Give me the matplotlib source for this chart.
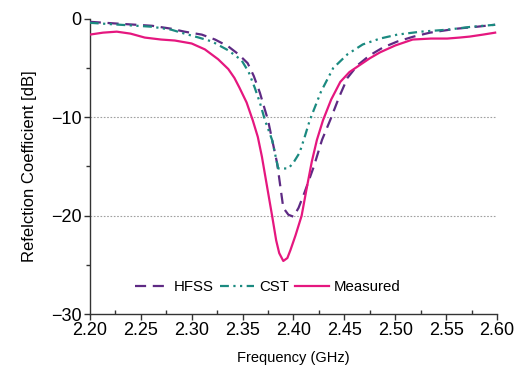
import matplotlib
matplotlib.use('Agg')
import matplotlib.pyplot as plt
from matplotlib.ticker import MultipleLocator, FormatStrFormatter

plt.rcParams['font.family'] = ['Liberation Sans', 'DejaVu Sans']

# Reflection coefficient (dB)
freq_meas = [2.200, 2.213, 2.2265, 2.240, 2.254, 2.270, 2.2835, 2.300, 2.313,
             2.326, 2.336, 2.342, 2.347, 2.354, 2.360, 2.365, 2.369, 2.374,
             2.379, 2.383, 2.386, 2.390, 2.394, 2.397, 2.402, 2.408, 2.413,
             2.418, 2.423, 2.429, 2.437, 2.446, 2.455, 2.465, 2.475, 2.485,
             2.500, 2.517, 2.535, 2.551, 2.563, 2.573, 2.586, 2.598]
s11_meas = [-1.6, -1.4, -1.3, -1.5, -1.9, -2.1, -2.2, -2.5, -3.1,
            -4.1, -5.1, -6.0, -7.0, -8.5, -10.3, -12.0, -14.0, -17.0,
            -20.0, -22.5, -23.8, -24.6, -24.3, -23.5, -22.0, -20.0, -17.2,
            -14.5, -12.3, -10.3, -8.2, -6.4, -5.4, -4.7, -4.0, -3.4,
            -2.7, -2.1, -2.0, -2.0, -1.9, -1.8, -1.6, -1.4]

freq_cst = [2.200, 2.230, 2.261, 2.280, 2.293, 2.307, 2.320, 2.336, 2.349,
            2.356, 2.362, 2.367, 2.372, 2.379, 2.385, 2.390, 2.395, 2.400,
            2.406, 2.411, 2.416, 2.427, 2.439, 2.453, 2.468, 2.485, 2.502,
            2.525, 2.551, 2.575, 2.598]
s11_cst = [-0.4, -0.6, -0.8, -1.1, -1.5, -1.9, -2.3, -3.2, -4.2,
           -5.4, -7.0, -8.5, -10.3, -12.3, -15.2, -15.2, -15.2, -14.6,
           -13.6, -12.0, -10.3, -7.4, -5.0, -3.6, -2.6, -2.0, -1.6,
           -1.3, -1.1, -0.8, -0.6]

freq_hfss = [2.200, 2.230, 2.261, 2.280, 2.293, 2.310, 2.323, 2.336, 2.346,
             2.355, 2.361, 2.367, 2.375, 2.384, 2.390, 2.395, 2.400, 2.405,
             2.411, 2.420, 2.428, 2.436, 2.445, 2.453, 2.463, 2.475, 2.488,
             2.502, 2.518, 2.534, 2.560, 2.580, 2.598]
s11_hfss = [-0.3, -0.5, -0.7, -1.0, -1.3, -1.6, -2.1, -2.8, -3.6,
            -4.5, -5.8, -7.5, -10.3, -14.7, -19.2, -19.9, -20.1, -19.2,
            -17.6, -15.0, -12.3, -10.3, -7.9, -6.0, -4.7, -3.7, -2.9,
            -2.3, -1.8, -1.4, -1.0, -0.8, -0.6]

PURPLE = '#5e2a84'
TEAL = '#1b8a80'
PINK = '#e5177f'

fig = plt.figure(figsize=(5.25, 3.7), dpi=100)
ax = fig.add_axes([0.171, 0.151, 0.776, 0.798])

for y in (-10, -20):
    ax.axhline(y, color='#a0a0a0', lw=0.8, ls=(0, (1.5, 1.5)), zorder=1)

ax.plot(freq_hfss, s11_hfss, color=PURPLE, lw=1.6, ls=(0, (5, 3)), label='HFSS', zorder=3)
ax.plot(freq_cst, s11_cst, color=TEAL, lw=1.6, ls=(0, (4, 2, 1, 2, 1, 2)), label='CST', zorder=3)
ax.plot(freq_meas, s11_meas, color=PINK, lw=1.6, label='Measured', zorder=4)

ax.set_xlim(2.20, 2.60)
ax.set_ylim(-30, 0)
ax.xaxis.set_major_locator(MultipleLocator(0.05))
ax.xaxis.set_minor_locator(MultipleLocator(0.025))
ax.yaxis.set_major_locator(MultipleLocator(10))
ax.yaxis.set_minor_locator(MultipleLocator(5))
ax.xaxis.set_major_formatter(FormatStrFormatter('%.2f'))

for s in ('top', 'right'):
    ax.spines[s].set_visible(False)
for s in ('left', 'bottom'):
    ax.spines[s].set_color('#333333')
    ax.spines[s].set_linewidth(1.0)

ax.tick_params(axis='both', which='major', direction='out', length=4, width=1,
               color='#333333', labelsize=13, pad=2)
ax.tick_params(axis='x', which='minor', direction='in', length=3, width=1, color='#333333')
ax.tick_params(axis='y', which='minor', direction='out', length=3, width=1, color='#333333')

ax.set_xlabel('Frequency (GHz)', fontsize=10.5, labelpad=8)
ax.set_ylabel('Refelction Coefficient [dB]', fontsize=12, labelpad=10)

ax.legend(loc='center', bbox_to_anchor=(0.437, 0.092), ncol=3, frameon=False,
          fontsize=10.8, handlelength=2.3, handletextpad=0.3, columnspacing=0.4)

fig.savefig('out.png', dpi=100, facecolor='white')
